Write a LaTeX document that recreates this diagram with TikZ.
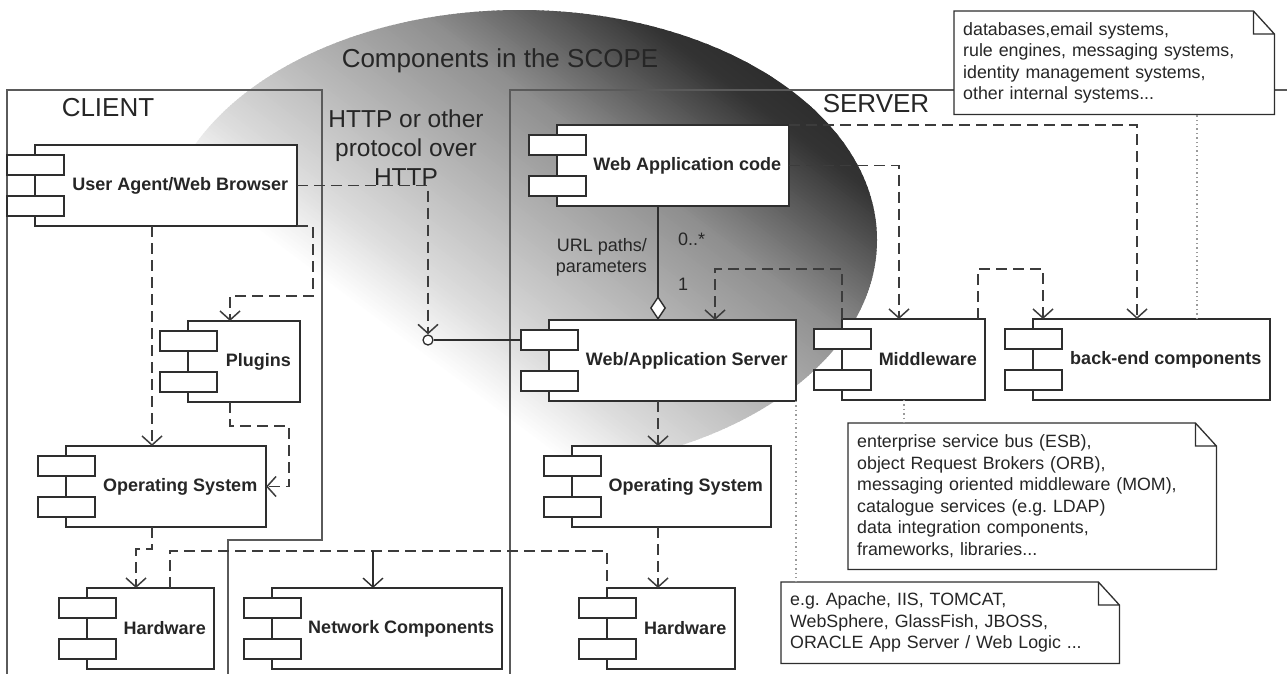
\documentclass[tikz,border=0pt]{standalone}
\usepackage{fontspec}
\setmainfont{Liberation Sans}
\usetikzlibrary{arrows.meta}
\definecolor{linec}{HTML}{2E2E2E}
\definecolor{dashc}{HTML}{3C3C3C}
\definecolor{framec}{HTML}{5A5A5A}
\definecolor{dotc}{HTML}{9A9A9A}
\tikzset{
  comp/.style={draw=linec, fill=white, line width=1.4pt, anchor=north west,
    minimum height=81pt, inner xsep=2pt, outer sep=0pt, text=black!85,
    font=\bfseries\fontsize{18}{21}\selectfont,
    execute at begin node=\hspace*{28.5pt}},
  comptab/.style={draw=linec, fill=white, line width=1.4pt, minimum width=57pt,
    minimum height=20pt, inner sep=0pt, outer sep=0pt},
  notebox/.style={fill=white, anchor=north west, inner xsep=9pt, align=left,
    text=black!85, font=\fontsize{17.8}{21.5}\selectfont},
  noteline/.style={draw=linec, line width=1.3pt},
  frameline/.style={draw=framec, line width=1.8pt},
  framelabel/.style={text=black!85, font=\fontsize{26}{30}\selectfont},
  lbl/.style={text=black!85, font=\fontsize{18}{21}\selectfont},
  dep/.style={draw=dashc, line width=1.5pt, dash pattern=on 11pt off 6pt,
    -{Straight Barb[length=9pt,width=20pt]}},
  dline/.style={draw=dashc, line width=1.5pt, dash pattern=on 11pt off 6pt},
  assoc/.style={draw=linec, line width=1.4pt, -{Straight Barb[length=9pt,width=20pt]}},
  aggr/.style={draw=linec, line width=1.4pt, -{Diamond[length=24pt,width=16pt,fill=white]}},
  dotline/.style={draw=dotc, line width=1.4pt, dash pattern=on 1.4pt off 3pt}
}
% the two little boxes on the left side of a component
\newcommand\addtabs[1]{%
  \node[comptab, anchor=north west] (#1-t1) at ([xshift=-28pt,yshift=-10pt]#1.north west) {};
  \node[comptab, anchor=south west] (#1-t2) at ([xshift=-28pt,yshift=10pt]#1.south west) {};}
% note outline with folded corner
\newcommand\foldnote[1]{%
  \draw[noteline] (#1.north west) -- ([xshift=-21pt]#1.north east)
    -- ([yshift=-23pt]#1.north east) -- (#1.south east) -- (#1.south west) -- cycle
    ([xshift=-21pt]#1.north east) |- ([yshift=-23pt]#1.north east);}

\begin{document}
\frenchspacing
\begin{tikzpicture}[x=1pt,y=-1pt]
\useasboundingbox (0,0) rectangle (1287,673);
% scope: grey bands, light at lower left, dark at upper right
\begin{scope}
  \clip (520,240) ellipse [x radius=357pt, y radius=230pt];
  \begin{scope}[rotate=53]
    \foreach \v in {-30,-27,...,450} {
      \pgfmathsetmacro\g{(\v<40) ? max(0,(\v+30)*0.2) : ((\v<240) ? 14+(\v-40)*0.15 :
        ((\v<370) ? 44+(\v-240)*0.277 : min(85,80+(\v-370)*0.0625)))}
      \fill[black!\g] (\v,-1200) rectangle (\v+4,1200);
    }
    \fill[black!85] (452,-1200) rectangle (900,1200);
  \end{scope}
\end{scope}
\draw[frameline] (7,690) -- (7,90) -- (322,90) -- (322,540) -- (228,540) -- (228,690);
\draw[frameline] (510,690) -- (510,90) -- (1300,90);
\node[framelabel] (scope) at (500,61) {Components in the SCOPE};
\node[framelabel] (client) at (108,108) {CLIENT};
\node[framelabel] (server) at (876,104) {SERVER};
\node[text=black!85, align=center, font=\fontsize{24.5}{29}\selectfont] (http) at (406,148)
  {HTTP or other\\protocol over\\HTTP};

% client
\node[comp, minimum width=262] (ua) at (35,145) {User Agent/Web Browser};
\node[comp, minimum width=112] (plug) at (188,321) {Plugins};
\node[comp, minimum width=200] (cos) at (66,446) {Operating System};
\node[comp, minimum width=127] (chw) at (87,588) {Hardware};
\node[comp, minimum width=230] (nc) at (272,588) {Network Components};
% server
\node[comp, minimum width=232] (wac) at (557,125) {Web Application code};
\node[comp, minimum width=247] (was) at (549,320) {Web/Application Server};
\node[comp, minimum width=143] (mw) at (842,319) {Middleware};
\node[comp, minimum width=237] (be) at (1033,319) {back-end components};
\node[comp, minimum width=199] (sos) at (572,446) {Operating System};
\node[comp, minimum width=128] (shw) at (607,588) {Hardware};
\foreach \c in {ua,plug,cos,chw,nc,wac,was,mw,be,sos,shw} {\addtabs{\c}}

\node[circle, draw=linec, fill=white, line width=1.3pt, minimum size=10pt, inner sep=0pt]
  (iface) at (428,340) {};

% notes
\node[notebox, text width=302pt, minimum height=103pt] (noteA) at (954,11)
  {databases,email systems,\\rule engines, messaging systems,\\identity management systems,\\other internal systems...};
\foldnote{noteA}
\node[notebox, text width=350pt, minimum height=146pt] (noteB) at (848,423)
  {enterprise service bus (ESB),\\object Request Brokers (ORB),\\messaging oriented middleware (MOM),\\catalogue services (e.g. LDAP)\\data integration components,\\frameworks, libraries...};
\foldnote{noteB}
\node[notebox, text width=320pt, minimum height=81pt] (noteC) at (781,582)
  {e.g. Apache, IIS, TOMCAT,\\WebSphere, GlassFish, JBOSS,\\ORACLE App Server / Web Logic ...};
\foldnote{noteC}

% client side
\draw[dep] ([xshift=117pt]ua.south west) -- ([xshift=86pt]cos.north west);
\draw[dep] (ua.south east) -- ++(16,0) -- ++(0,70) -| ([xshift=42pt]plug.north west);
\draw[dep] ([xshift=42pt]plug.south west) -- ++(0,24) -| ([xshift=23pt]cos.east) -- (cos.east);
\draw[dep] ([xshift=86pt]cos.south west) -- ++(0,22) -| ([xshift=49pt]chw.north west);
\draw[dline] ([xshift=83pt]chw.north west) -- ++(0,-37) coordinate (lan) -| (shw.north west);
\coordinate (ncin) at ([xshift=101pt]nc.north west);
\draw[assoc] (lan -| ncin) -- (ncin);

% http
\draw[dep] (ua.east) -| (iface.north);
\draw[draw=linec, line width=1.4pt] (iface.east) -- (was-t1.west);

% server side
\draw[aggr] ([xshift=101pt]wac.south west)
  -- node[lbl, pos=0.29, right=16pt] (mult0) {0..*}
     node[lbl, pos=0.69, right=16pt] (mult1) {1}
     node[lbl, pos=0.45, left=7pt, align=right] (urlp) {URL paths/\\parameters}
  ([xshift=109pt]was.north west);
\draw[dep] ([xshift=109pt]was.south west) -- ([xshift=86pt]sos.north west);
\draw[dep] ([xshift=86pt]sos.south west) -- ([xshift=51pt]shw.north west);
\draw[dep] (mw.north west) -- ++(0,-50) -| ([xshift=166pt]was.north west);
\draw[dep] (wac.east) -| ([xshift=57pt]mw.north west);
\draw[dep] (wac.north east) -| ([xshift=104pt]be.north west);
\draw[dep] ([xshift=136pt]mw.north west) -- ++(0,-50) -| ([xshift=10pt]be.north west);

% notes
\draw[dotline] ([xshift=164pt]be.north west) coordinate (d1) -- (d1 |- noteA.south);
\draw[dotline] ([xshift=62pt]mw.south west) coordinate (d2) -- (d2 |- noteB.north);
\draw[dotline] (was.south east) -- (was.south east |- noteC.north);
\end{tikzpicture}
\end{document}
